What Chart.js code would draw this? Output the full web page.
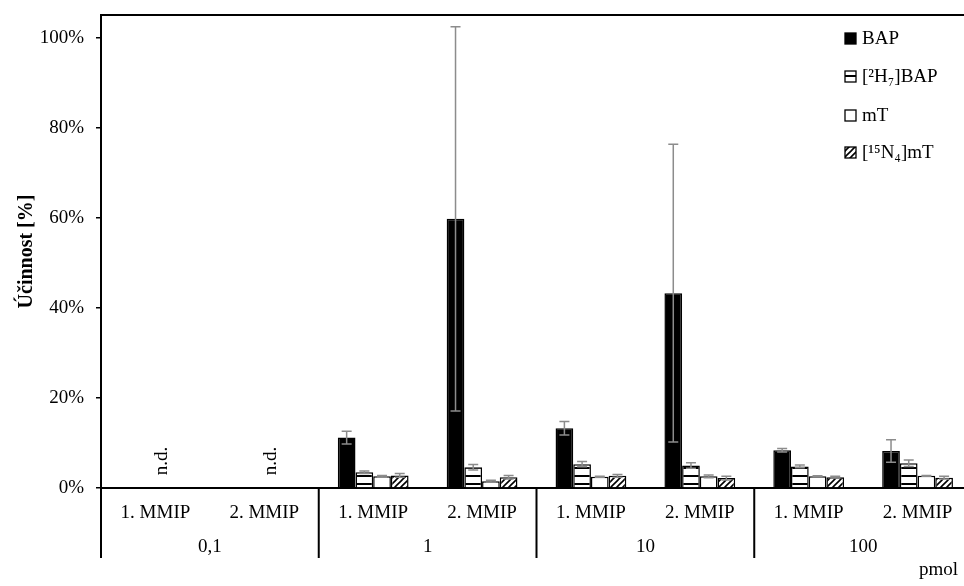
<!DOCTYPE html>
<html>
<head>
<meta charset="utf-8">
<script src="https://cdn.jsdelivr.net/npm/chart.js@4.4.1/dist/chart.umd.min.js"></script>
<style>
  html, body { margin: 0; padding: 0; overflow: hidden; background: #fff; }
  canvas { display: block; }
</style>
</head>
<body>
<canvas id="chart" width="976" height="586"></canvas>
<script>
// ===== DATA =====
const categories = ["1. MMIP", "2. MMIP", "1. MMIP", "2. MMIP", "1. MMIP", "2. MMIP", "1. MMIP", "2. MMIP"];
const groups     = ["0,1", "1", "10", "100"];
const yTicks     = [0, 20, 40, 60, 80, 100];

const bap      = [null, null, 11.2, 59.8, 13.3, 43.3, 8.4, 8.2];
const bapErr   = [null, null, 1.4, 42.7, 1.5, 33.1, 0.4, 2.5];
const h7bap    = [null, null, 3.5, 4.6, 5.3, 5.0, 4.8, 5.5];
const h7bapErr = [null, null, 0.3, 0.6, 0.6, 0.6, 0.3, 0.7];
const mt       = [null, null, 2.6, 1.5, 2.5, 2.6, 2.6, 2.7];
const mtErr    = [null, null, 0.2, 0.2, 0.1, 0.3, 0.1, 0.1];
const n4mt     = [null, null, 2.8, 2.4, 2.7, 2.2, 2.4, 2.3];
const n4mtErr  = [null, null, 0.4, 0.4, 0.3, 0.4, 0.2, 0.3];
const notDetected = [true, true, false, false, false, false, false, false];

const seriesNames = ["BAP", "[²H₇]BAP", "mT", "[¹⁵N₄]mT"];
const errors = [bapErr, h7bapErr, mtErr, n4mtErr];

const FONT = "'Liberation Serif', 'Times New Roman', serif";

// ===== PATTERNS =====
function hLines() {
  const c = document.createElement("canvas");
  c.width = 8; c.height = 8;
  const g = c.getContext("2d");
  g.fillStyle = "#fff"; g.fillRect(0, 0, 8, 8);
  g.fillStyle = "#000"; g.fillRect(0, 3, 8, 2);
  return g.createPattern(c, "repeat");
}
function diagLines() {
  const c = document.createElement("canvas");
  c.width = 6; c.height = 6;
  const g = c.getContext("2d");
  g.fillStyle = "#fff"; g.fillRect(0, 0, 6, 6);
  g.strokeStyle = "#000"; g.lineWidth = 1.6;
  g.beginPath();
  g.moveTo(-1, 7); g.lineTo(7, -1);
  g.moveTo(-1, 1); g.lineTo(1, -1);
  g.moveTo(5, 7); g.lineTo(7, 5);
  g.stroke();
  return g.createPattern(c, "repeat");
}
const fills = ["#000", hLines(), "#fff", diagLines()];

// ===== PLUGIN: error bars, labels, frame, legend =====
const extras = {
  id: "extras",
  afterDatasetsDraw(chart) {
    const ctx = chart.ctx, y = chart.scales.y, x = chart.scales.x;
    const area = chart.chartArea;
    ctx.save();

    // error bars
    ctx.strokeStyle = "#8c8c8c";
    ctx.lineWidth = 1.5;
    chart.data.datasets.forEach((ds, i) => {
      chart.getDatasetMeta(i).data.forEach((bar, j) => {
        const v = ds.data[j], e = errors[i][j];
        if (v == null || e == null) return;
        const t = y.getPixelForValue(v + e), b = y.getPixelForValue(v - e);
        ctx.beginPath();
        ctx.moveTo(bar.x, t); ctx.lineTo(bar.x, b);
        ctx.moveTo(bar.x - 5, t); ctx.lineTo(bar.x + 5, t);
        ctx.moveTo(bar.x - 5, b); ctx.lineTo(bar.x + 5, b);
        ctx.stroke();
      });
    });

    // n.d.
    ctx.fillStyle = "#000";
    ctx.font = "19px " + FONT;
    ctx.textAlign = "center";
    ctx.textBaseline = "middle";
    notDetected.forEach((nd, i) => {
      if (!nd) return;
      ctx.save();
      ctx.translate(x.getPixelForTick(i) + 7, 461);
      ctx.rotate(-Math.PI / 2);
      ctx.fillText("n.d.", 0, 0);
      ctx.restore();
    });

    // frame top + axis extensions + group separators
    ctx.strokeStyle = "#000";
    ctx.lineWidth = 2;
    ctx.beginPath();
    ctx.moveTo(area.left, area.top); ctx.lineTo(area.right, area.top);
    ctx.moveTo(area.left, area.bottom); ctx.lineTo(area.left, 558);
    for (let g = 1; g < groups.length; g++) {
      const sx = (x.getPixelForTick(g * 2 - 1) + x.getPixelForTick(g * 2)) / 2;
      ctx.moveTo(sx, area.bottom); ctx.lineTo(sx, 558);
    }
    ctx.stroke();

    // group labels
    groups.forEach((lbl, g) => {
      const cx = (x.getPixelForTick(g * 2) + x.getPixelForTick(g * 2 + 1)) / 2;
      ctx.fillText(lbl, cx, 547);
    });

    // unit
    ctx.textAlign = "right";
    ctx.fillText("pmol", 958, 570);

    // legend
    const rows = [39, 77, 116, 153];
    ctx.textAlign = "left";
    seriesNames.forEach((name, i) => {
      ctx.fillStyle = fills[i];
      ctx.fillRect(845, rows[i] - 6, 11, 11);
      ctx.strokeStyle = "#000";
      ctx.lineWidth = 1.3;
      ctx.strokeRect(845, rows[i] - 6, 11, 11);
      ctx.fillStyle = "#000";
      ctx.fillText(name, 862, rows[i]);
    });

    ctx.restore();
  }
};

// ===== CHART =====
const datasets = [bap, h7bap, mt, n4mt].map((d, i) => ({
  label: seriesNames[i],
  data: d,
  backgroundColor: fills[i],
  borderColor: "#000",
  borderWidth: 1.5,
  borderSkipped: "bottom",
  barPercentage: 1.0,
  categoryPercentage: 0.65
}));

new Chart(document.getElementById("chart"), {
  type: "bar",
  data: { labels: categories, datasets },
  plugins: [extras],
  options: {
    responsive: false,
    devicePixelRatio: 1,
    animation: false,
    layout: { padding: { top: 15, right: 4, left: 0, bottom: 0 } },
    plugins: { legend: { display: false }, tooltip: { enabled: false } },
    scales: {
      x: {
        grid: { display: false, drawTicks: false },
        border: { color: "#000", width: 2 },
        ticks: { color: "#000", font: { family: FONT, size: 19 }, padding: 14, maxRotation: 0, autoSkip: false },
        afterFit: s => { s.height = 98; s.paddingLeft = 0; s.paddingRight = 0; }
      },
      y: {
        min: 0,
        max: 105.1,
        afterBuildTicks: s => { s.ticks = yTicks.map(v => ({ value: v })); },
        ticks: { color: "#000", font: { family: FONT, size: 19 }, padding: 12, callback: v => v + "%" },
        grid: { drawOnChartArea: false, drawTicks: true, tickLength: 5, color: "#000", lineWidth: 1.5 },
        border: { color: "#000", width: 2 },
        title: { display: true, text: "Účinnost [%]", color: "#000", font: { family: FONT, size: 20, weight: "bold" }, padding: { top: 15, bottom: 0 } },
        afterFit: s => { s.width = 101; s.paddingTop = 0; s.paddingBottom = 0; }
      }
    }
  }
});
</script>
</body>
</html>
